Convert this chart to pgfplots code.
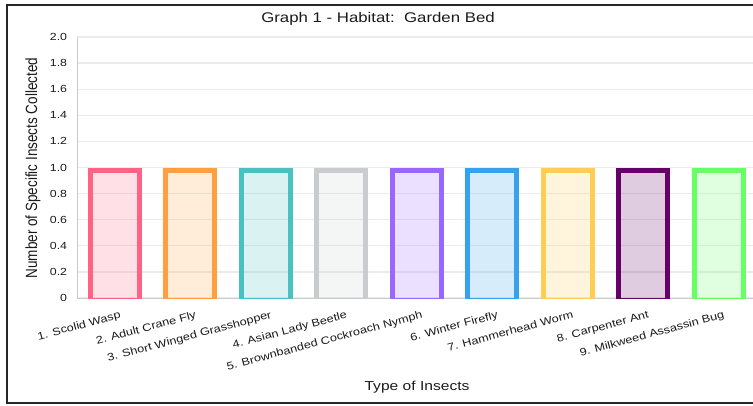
\documentclass[border=0pt]{standalone}
\usepackage{pgfplots}
\pgfplotsset{compat=1.18}
\usepackage{fontspec}
\setmainfont{Liberation Sans}[FakeStretch=1.2]
\newfontfamily\ylfont{Liberation Sans}
\definecolor{c1}{HTML}{FF6384}
\definecolor{c2}{HTML}{FF9F40}
\definecolor{c3}{HTML}{4BC0C0}
\definecolor{c4}{HTML}{C9CBCF}
\definecolor{c5}{HTML}{9966FF}
\definecolor{c6}{HTML}{36A2EB}
\definecolor{c7}{HTML}{FFCD56}
\definecolor{c8}{HTML}{660066}
\definecolor{c9}{HTML}{66FF66}
\definecolor{gridc}{HTML}{EBEBEB}
\definecolor{axc}{HTML}{CCCCCC}
\definecolor{txt}{HTML}{1A1A1A}
\begin{document}
\begin{tikzpicture}[x=1pt,y=1pt]
\useasboundingbox (0,0) rectangle (753,405);
\begin{axis}[
  at={(77.3pt,107pt)}, anchor=south west,
  scale only axis, width=679pt, height=261pt,
  xmin=0.5, xmax=9.5, ymin=0, ymax=2,
  axis x line=bottom, axis y line=left,
  axis line style={axc, line width=1pt, -},
  xtick={1,...,9},
  xticklabels={1. Scolid Wasp,2. Adult Crane Fly,3. Short Winged Grasshopper,4. Asian Lady Beetle,5. Brownbanded Cockroach Nymph,6. Winter Firefly,7. Hammerhead Worm,8. Carpenter Ant,9. Milkweed Assassin Bug},
  ytick={0,0.2,0.4,0.6,0.8,1.0,1.2,1.4,1.6,1.8,2.0},
  yticklabels={0,0.2,0.4,0.6,0.8,1.0,1.2,1.4,1.6,1.8,2.0},
  major tick length=0pt,
  ymajorgrids, grid style={gridc, line width=1.3pt},
  yticklabel style={font=\fontsize{10.3}{12}\selectfont, text=txt, anchor=east, inner sep=0pt, xshift=-10pt},
  xticklabel style={font=\fontsize{10.6}{12}\selectfont, text=txt, rotate=15, anchor=north east, inner sep=0pt, xshift=1pt, yshift=-13pt},
  clip=true,
]
\addplot[ybar, bar width=0.65, draw=c1, line width=5pt, fill=c1, fill opacity=0.2, yshift=-2.5pt] coordinates {(1,1)};
\addplot[ybar, bar width=0.65, draw=c2, line width=5pt, fill=c2, fill opacity=0.2, yshift=-2.5pt] coordinates {(2,1)};
\addplot[ybar, bar width=0.65, draw=c3, line width=5pt, fill=c3, fill opacity=0.2, yshift=-2.5pt] coordinates {(3,1)};
\addplot[ybar, bar width=0.65, draw=c4, line width=5pt, fill=c4, fill opacity=0.2, yshift=-2.5pt] coordinates {(4,1)};
\addplot[ybar, bar width=0.65, draw=c5, line width=5pt, fill=c5, fill opacity=0.2, yshift=-2.5pt] coordinates {(5,1)};
\addplot[ybar, bar width=0.65, draw=c6, line width=5pt, fill=c6, fill opacity=0.2, yshift=-2.5pt] coordinates {(6,1)};
\addplot[ybar, bar width=0.65, draw=c7, line width=5pt, fill=c7, fill opacity=0.2, yshift=-2.5pt] coordinates {(7,1)};
\addplot[ybar, bar width=0.65, draw=c8, line width=5pt, fill=c8, fill opacity=0.2, yshift=-2.5pt] coordinates {(8,1)};
\addplot[ybar, bar width=0.65, draw=c9, line width=5pt, fill=c9, fill opacity=0.2, yshift=-2.5pt] coordinates {(9,1)};
\end{axis}
\node[text=txt, font=\fontsize{14}{16}\selectfont] at (378,386) {Graph 1 - Habitat:\ \ Garden Bed};
\node[text=txt, font=\fontsize{13}{15}\selectfont] at (417,18) {Type of Insects};
\node[text=txt, rotate=90] at (33,237) {\scalebox{1}[1.2]{\ylfont\fontsize{13.5}{15}\selectfont Number of Specific Insects Collected}};
\draw[line width=1.5pt, black!85] (760,400) -- (7,400) -- (7,2) -- (760,2);
\end{tikzpicture}
\end{document}
